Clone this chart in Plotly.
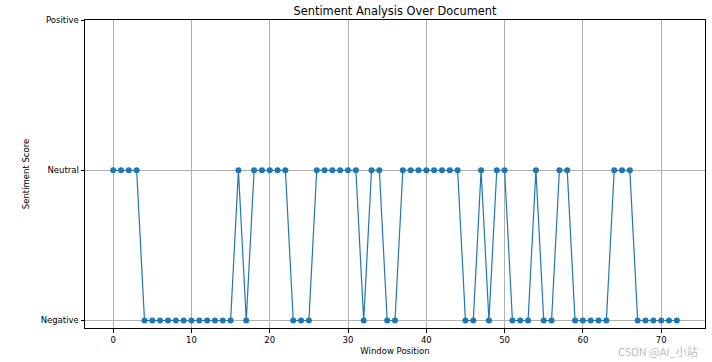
import plotly.graph_objects as go

window_position = list(range(73))
# -1 = Negative, 0 = Neutral, 1 = Positive
sentiment = [
    0, 0, 0, 0,
    -1, -1, -1, -1, -1, -1, -1, -1, -1, -1, -1, -1,
    0, -1,
    0, 0, 0, 0, 0,
    -1, -1, -1,
    0, 0, 0, 0, 0, 0,
    -1,
    0, 0,
    -1, -1,
    0, 0, 0, 0, 0, 0, 0, 0,
    -1, -1,
    0, -1,
    0, 0,
    -1, -1, -1,
    0,
    -1, -1,
    0, 0,
    -1, -1, -1, -1, -1,
    0, 0, 0,
    -1, -1, -1, -1, -1, -1,
]
y_tick_vals = [-1, 0, 1]
y_tick_text = ["Negative", "Neutral", "Positive"]
x_tick_vals = [0, 10, 20, 30, 40, 50, 60, 70]

font = "DejaVu Sans"
W, H = 712, 362
L, R, T, B = 85, 7, 20, 34

fig = go.Figure()
fig.add_trace(go.Scatter(
    x=window_position, y=sentiment, mode="lines+markers",
    line=dict(color="#1f77b4", width=1.2),
    marker=dict(color="#1f77b4", size=6),
    showlegend=False,
))

axis_common = dict(
    showline=True, linecolor="black", linewidth=1, mirror=True,
    ticks="outside", ticklen=3.5, tickwidth=1, tickcolor="black",
    showgrid=True, gridcolor="#b0b0b0", gridwidth=1, zeroline=False,
    tickfont=dict(family=font, size=8.5, color="black"),
)
fig.update_xaxes(range=[-3.6, 75.6], tickvals=x_tick_vals,
                 title=dict(text="Window Position", font=dict(family=font, size=8.5, color="black"), standoff=4),
                 **axis_common)
fig.update_yaxes(range=[-1.05, 1], tickvals=y_tick_vals, ticktext=y_tick_text,
                 title=dict(text="Sentiment Score", font=dict(family=font, size=8.5, color="black"), standoff=9),
                 **axis_common)

pw, ph = W - L - R, H - T - B
fig.update_layout(
    width=W, height=H,
    margin=dict(l=L, r=R, t=T, b=B),
    paper_bgcolor="white", plot_bgcolor="white",
    hovermode=False,
    title=dict(text="Sentiment Analysis Over Document", x=0.5, xanchor="center",
               xref="paper", y=1 - 11 / H, yanchor="middle",
               font=dict(family=font, size=11.4, color="black")),
    annotations=[dict(text="CSDN @AI_小站", x=(700 - L) / pw, y=(H - T - B - (351 - T)) / ph,
                      xref="paper", yref="paper",
                      showarrow=False, xanchor="right", yanchor="middle",
                      font=dict(family="Noto Sans CJK SC", size=11, color="rgba(170,170,170,0.8)"))],
)
fig.write_html("out.html", config={"displayModeBar": False},
               post_script="document.body.style.margin='0';")
